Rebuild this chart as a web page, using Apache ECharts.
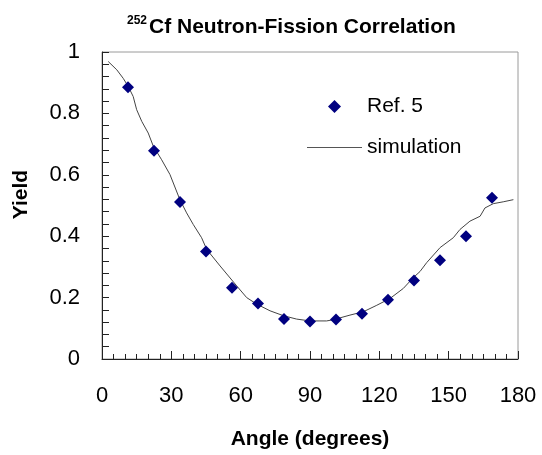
<!DOCTYPE html>
<html>
<head>
<meta charset="utf-8">
<script src="https://cdn.jsdelivr.net/npm/echarts@6/dist/echarts.min.js"></script>
<style>html,body{margin:0;padding:0;background:#fff}#c{width:542px;height:455px}</style>
</head>
<body>
<div id="c"></div>
<script>
// Measured data (Ref. 5)
const refAngles = [11.25, 22.5, 33.75, 45, 56.25, 67.5, 78.75, 90, 101.25, 112.5, 123.75, 135, 146.25, 157.5, 168.75];
const refYield  = [0.885, 0.678, 0.511, 0.350, 0.232, 0.181, 0.130, 0.122, 0.129, 0.147, 0.193, 0.256, 0.322, 0.400, 0.525];
// Simulation curve
const simAngles = [2.7, 6.4, 9.2, 11.4, 13.5, 15, 17.2, 20, 22.2, 25.8, 29.4, 33.7, 36.6, 39.5, 43.1, 45.3, 51.1, 58.3, 62.6, 66.9, 72.7, 78.5, 84.2, 90, 94.3, 97.2, 100.1, 107.3, 113.1, 118.9, 124.6, 130.4, 134.7, 137.6, 140.5, 146.3, 152, 154.9, 159.2, 163.6, 165.7, 169.3, 173.6, 178];
const simYield  = [0.969, 0.942, 0.914, 0.887, 0.855, 0.812, 0.774, 0.736, 0.693, 0.649, 0.601, 0.519, 0.476, 0.438, 0.395, 0.357, 0.303, 0.238, 0.200, 0.179, 0.157, 0.141, 0.130, 0.124, 0.124, 0.124, 0.128, 0.143, 0.154, 0.175, 0.197, 0.230, 0.265, 0.285, 0.314, 0.363, 0.395, 0.422, 0.449, 0.465, 0.492, 0.506, 0.512, 0.519];
const xTicks = [0, 30, 60, 90, 120, 150, 180];
const yTicks = [0, 0.2, 0.4, 0.6, 0.8, 1];
const titleSup = '252';
const titleMain = 'Cf Neutron-Fission Correlation';

const FONT = '"Liberation Sans", Arial, sans-serif';
const chart = echarts.init(document.getElementById('c'), null, {renderer: 'canvas'});
chart.setOption({
  backgroundColor: '#fff',
  animation: false,
  title: {
    text: '{sup|' + titleSup + '}{main|' + titleMain + '}',
    left: 127, top: 15, padding: 0,
    textStyle: {
      rich: {
        sup: {fontSize: 12, fontWeight: 'bold', fontFamily: FONT, color: '#000', verticalAlign: 'top', lineHeight: 12, padding: [0, 2, 0, 0]},
        main: {fontSize: 21, fontWeight: 'bold', fontFamily: FONT, color: '#000', lineHeight: 24}
      }
    }
  },
  legend: [
    {
      data: [{name: 'Ref. 5', icon: 'diamond'}], left: 328, top: 96, orient: 'vertical', padding: 0,
      itemWidth: 13, itemHeight: 13,
      textStyle: {fontSize: 21, fontFamily: FONT, color: '#000', padding: [0, 0, 0, 21]}
    },
    {
      data: [{name: 'simulation', icon: 'rect'}], left: 307, top: 137, orient: 'vertical', padding: 0,
      itemWidth: 55, itemHeight: 1,
      textStyle: {fontSize: 21, fontFamily: FONT, color: '#000'}
    }
  ],
  grid: {left: 102, top: 52, right: 24, bottom: 95, show: true, borderColor: '#9a9a9a', borderWidth: 1},
  xAxis: {
    type: 'value', min: xTicks[0], max: xTicks[xTicks.length - 1], interval: 30,
    name: 'Angle (degrees)', nameLocation: 'middle', nameGap: 70,
    nameTextStyle: {fontSize: 21, fontWeight: 'bold', fontFamily: FONT, color: '#000'},
    axisLine: {lineStyle: {color: '#222', width: 1}},
    axisTick: {inside: true, length: 8, lineStyle: {color: '#222'}},
    minorTick: {show: true, splitNumber: 6, length: 5, lineStyle: {color: '#222'}},
    axisLabel: {fontSize: 22, fontFamily: FONT, color: '#000', margin: 26},
    splitLine: {show: false}
  },
  yAxis: {
    type: 'value', min: yTicks[0], max: yTicks[yTicks.length - 1], interval: 0.2,
    name: 'Yield', nameLocation: 'middle', nameGap: 70,
    nameTextStyle: {fontSize: 21, fontWeight: 'bold', fontFamily: FONT, color: '#000', padding: [0, 0, 0, 22]},
    axisLine: {show: true, lineStyle: {color: '#222', width: 1}},
    axisTick: {show: true, inside: true, length: 7, lineStyle: {color: '#222'}},
    minorTick: {show: true, splitNumber: 5, length: 7, lineStyle: {color: '#222'}},
    axisLabel: {fontSize: 22, fontFamily: FONT, color: '#000', margin: 22},
    splitLine: {show: false}
  },
  series: [
    {
      name: 'Ref. 5', type: 'scatter', symbol: 'diamond', symbolSize: 12,
      itemStyle: {color: '#000080', opacity: 1},
      data: refAngles.map((a, i) => [a, refYield[i]]), z: 3
    },
    {
      name: 'simulation', type: 'line', symbol: 'none', smooth: false,
      lineStyle: {color: '#444', width: 1}, itemStyle: {color: '#555'},
      data: simAngles.map((a, i) => [a, simYield[i]]), z: 2
    }
  ]
});
</script>
</body>
</html>
